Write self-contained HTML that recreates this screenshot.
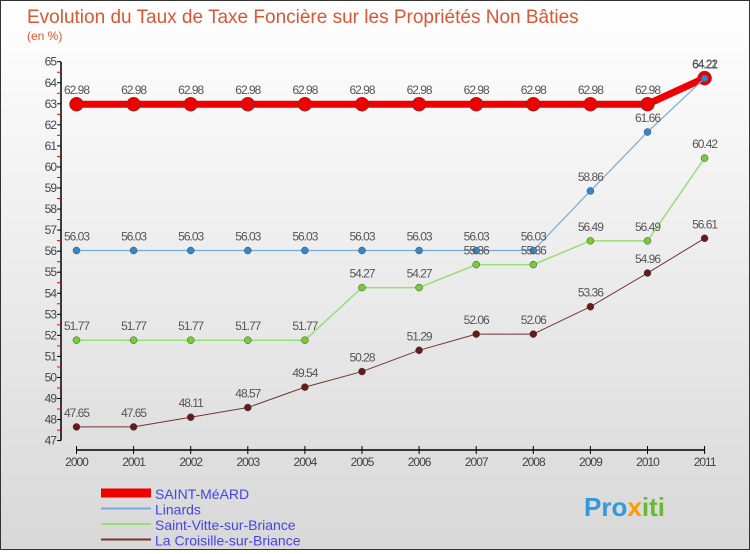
<!DOCTYPE html>
<html><head><meta charset="utf-8"><style>
body{margin:0;width:750px;height:550px;overflow:hidden;font-family:"Liberation Sans",sans-serif}
#wrap{position:relative;width:748px;height:548px;border:1px solid #333;background:linear-gradient(#ffffff,#d8d8d8)}
</style></head><body>
<div id="wrap">
<svg id="c" width="748" height="548" xmlns="http://www.w3.org/2000/svg">
<text x="26" y="22" font-size="19" fill="#dd5533">Evolution du Taux de Taxe Foncière sur les Propriétés Non Bâties</text>
<text x="26" y="39" font-size="12" fill="#dd5533">(en %)</text>
<g id="axes"></g><g id="series"></g><g id="legend"></g>
<text x="583" y="515" font-size="26" font-weight="bold" fill="#3399dd">Pro<tspan fill="#ff9900">x</tspan><tspan fill="#66bb33">iti</tspan></text>
</svg></div>
<script>
const years=[2000,2001,2002,2003,2004,2005,2006,2007,2008,2009,2010,2011];
const yTicks=[47,48,49,50,51,52,53,54,55,56,57,58,59,60,61,62,63,64,65];
const saintMeard=[62.98,62.98,62.98,62.98,62.98,62.98,62.98,62.98,62.98,62.98,62.98,64.22];
const linards=[56.03,56.03,56.03,56.03,56.03,56.03,56.03,56.03,56.03,58.86,61.66,64.21];
const saintVitte=[51.77,51.77,51.77,51.77,51.77,54.27,54.27,55.36,55.36,56.49,56.49,60.42];
const croisille=[47.65,47.65,48.11,48.57,49.54,50.28,51.29,52.06,52.06,53.36,54.96,56.61];
const seriesNames=["SAINT-MéARD","Linards","Saint-Vitte-sur-Briance","La Croisille-sur-Briance"];
const NS="http://www.w3.org/2000/svg";
const X=i=>75.5+i*57.1;
const Y=v=>60.7+(65-v)*21.05;
function mk(p,t,a){const e=document.createElementNS(NS,t);for(const k in a)e.setAttribute(k,a[k]);p.appendChild(e);return e;}
const ax=document.getElementById('axes');
let e=mk(ax,'line',{x1:60,y1:Y(65),x2:60,y2:Y(47),stroke:'#000','stroke-width':1.5});


yTicks.forEach(v=>{
 mk(ax,'line',{x1:56,y1:Y(v),x2:60,y2:Y(v),stroke:'#000'});
 if(v<65)mk(ax,'line',{x1:56,y1:Y(v+0.5),x2:60,y2:Y(v+0.5),stroke:'#e00'});
 const t=mk(ax,'text',{x:55,y:Y(v)+4,'font-size':12,'text-anchor':'end',fill:'#444','letter-spacing':'-1'});
 t.textContent=v;
 
 
});
e=mk(ax,'line',{x1:X(0),y1:449,x2:X(11),y2:449,stroke:'#000','stroke-width':1.5});


years.forEach((yr,i)=>{
 mk(ax,'line',{x1:X(i),y1:445,x2:X(i),y2:453,stroke:'#000'});
 const t=mk(ax,'text',{x:X(i),y:465,'font-size':12,'text-anchor':'middle',fill:'#444','letter-spacing':'-1'});
 t.textContent=yr;
 
 
});
const sg=document.getElementById('series');
const defs=[[croisille,'#773333','#661a1a',1,3.5,'croisille'],[saintVitte,'#99dd77','#77cc33',1.5,3.5,'saint-vitte'],[linards,'#77aadd','#3388cc',1.2,3.5,'linards'],[saintMeard,'#ee0000','#ee0000',7,7,'saint-meard']];
const order=[3,2,1,0];
order.forEach(k=>{
 const [d,lc,pc,w,r,nm]=defs[k];
 const g=mk(sg,'g',{});
 
 
 const pl=mk(g,'polyline',{points:d.map((v,i)=>X(i)+','+Y(v)).join(' '),fill:'none',stroke:lc,'stroke-width':w,'stroke-linejoin':'round'});
 
 
 d.forEach((v,i)=>{
  const c=mk(g,'circle',{cx:X(i),cy:Y(v),r:r,fill:pc,stroke:'#444','stroke-width':0.5});
  
  
  const t=mk(g,'text',{x:X(i),y:Y(v)-10,'font-size':12,'text-anchor':'middle',fill:'#555','letter-spacing':'-1'});
  t.textContent=v.toFixed(2).replace(/\.?0+$/,'').replace(/(\.\d)$/,'$1');
  t.textContent=String(v);
  
  
 });
});
const lg=document.getElementById('legend');
const lcols=['#ee0000','#77aadd','#99dd77','#773333'];const lws=[9,2,2,2];
seriesNames.forEach((n,i)=>{
 const y=492+i*15.5;
 const g=mk(lg,'g',{});
 
 
 mk(g,'line',{x1:100,y1:y,x2:150,y2:y,stroke:lcols[i],'stroke-width':lws[i]});
 const t=mk(g,'text',{x:154,y:y+6,'font-size':14,fill:'#4444ee'});
 t.textContent=n;
});
</script>
</body></html>
